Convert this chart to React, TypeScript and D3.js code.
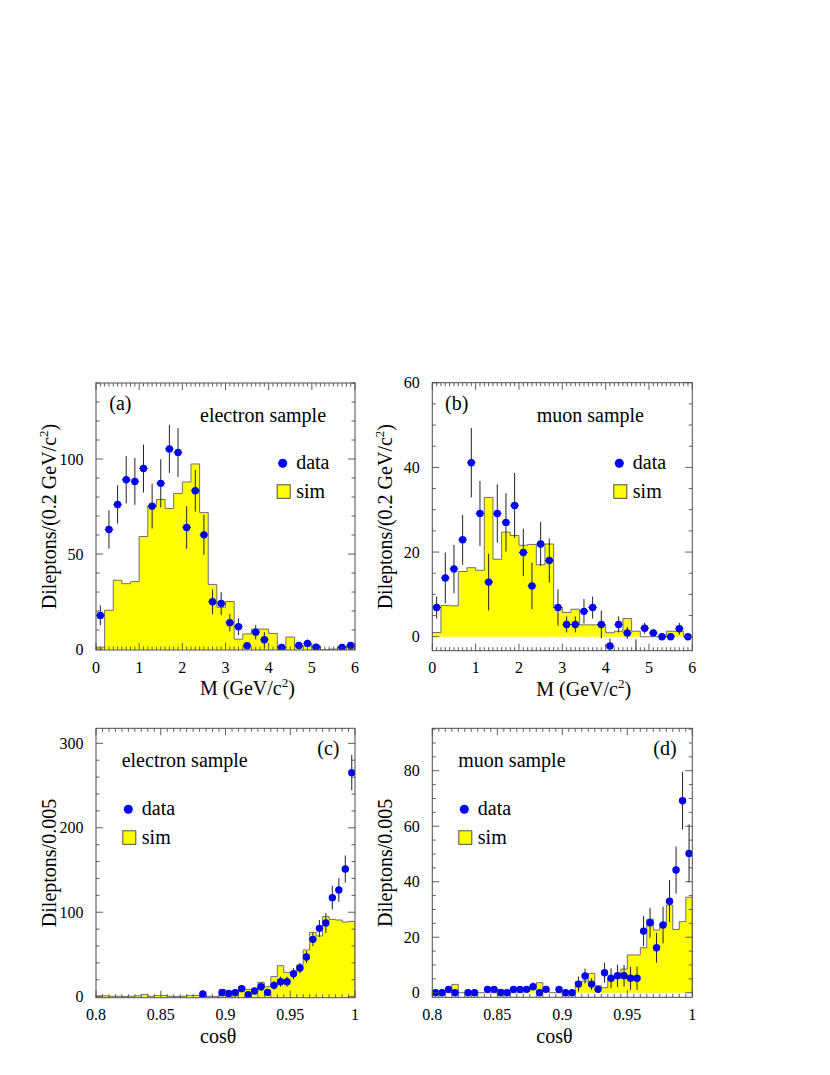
import React from "react";
import * as d3 from "d3";

// ---------------- Data ----------------
const massXTicks = [0, 1, 2, 3, 4, 5, 6];
const massXTickLabels = ["0", "1", "2", "3", "4", "5", "6"];
const cosXTicks = [0.8, 0.85, 0.9, 0.95, 1];
const cosXTickLabels = ["0.8", "0.85", "0.9", "0.95", "1"];
const electronMassYTicks = [0, 50, 100];
const muonMassYTicks = [0, 20, 40, 60];
const electronCosYTicks = [0, 100, 200, 300];
const muonCosYTicks = [0, 20, 40, 60, 80];

// (a) electron sample, M, 30 bins of 0.2 GeV/c^2
const simElectronMass = [1, 20.4, 36.2, 34.4, 35.5, 59.2, 75.2, 78.7, 74, 81.9, 87.9, 97.4, 71.8, 34, 22, 25, 5.2, 8, 10.5, 10.5, 8.2, 0.4, 6.3, 1.6, 1.6, 1.6, -0.5, 0, 1.2, 1.6];
const dataElectronMass = [17.7, 62.9, 76.1, 89.1, 88.2, 95, 75.2, 87.2, 105.3, 103.4, 64, 83.3, 60.1, 24.9, 24, 13.9, 11.8, 1.8, 8.9, 4.9, null, 0.9, null, 1.9, 3, 1, null, null, 0.9, 1.9];
const errElectronMass = [5.3, 10.1, 10.1, 12.5, 12.3, 12.6, 11.8, 12.7, 12.7, 12.9, 11.2, 11, 10.5, 6.5, 6, 4.6, 4.4, 1.9, 3.8, 4.1, 0, 1.5, 0, 1.5, 2, 1.2, 0, 0, 1, 1.5];

// (b) muon sample, M
const simMuonMass = [1, 7.4, 7.3, 15.4, 16.3, 15.7, 32.9, 18.3, 24.7, 23.9, 21.6, 21.8, 17.0, 21.9, 6.9, 5.75, 6.5, 2.8, 2.8, 2.8, 0.95, 1.3, 4.3, 1.3, 0, 0, 0, 1.3, 1.3, 0];
const dataMuonMass = [6.9, 13.9, 16, 22.9, 41.1, 29.1, 12.9, 29.1, 27, 31, 19.9, 12, 21.9, 18, 6.9, 2.9, 2.9, 6, 6.9, 2.9, -2.2, 2.9, 0.9, -4.5, 2, 0.9, 0, 0, 1.9, 0];
const errMuonMass = [2.6, 6, 5.7, 5.9, 8.2, 7.7, 6.7, 6.9, 6.9, 7.7, 5.6, 5.5, 5.2, 5.2, 4.3, 1.9, 1.9, 2.9, 2.6, 3.3, 1.8, 1.9, 1.4, 3.9, 1.3, 0.8, 0, 0, 1.4, 0];

// (c) electron sample, cos theta, 40 bins of 0.005
const simElectronCos = [1, 1, 0.5, 0.5, 0.3, 0.5, 1, 2.5, 0.5, 1.5, 1.5, 0.5, 0.3, 0.5, 1.5, 1.5, 2.5, 0.5, 0, 8.7, 5.9, 6.7, 11.8, 8.7, 8.7, 17, 11.8, 23.7, 36.7, 28.8, 28.8, 37.5, 55.3, 76.2, 71.9, 94.8, 91.6, 90.8, 88.4, 89.2];
const dataElectronCos = [null, null, null, null, null, null, null, null, null, null, null, null, null, null, null, null, 3.2, null, null, 4.7, 3.9, 4.7, 9.5, 2.4, 6.7, 11.8, 5.1, 13.4, 17.8, 17.8, 27.2, 34, 47, 67.9, 80.9, 87.2, 117.3, 126.3, 151.2, 265.3];
const errElectronCos = [0, 0, 0, 0, 0, 0, 0, 0, 0, 0, 0, 0, 0, 0, 0, 0, 2, 0, 0, 3, 3, 3, 4, 2.5, 3.5, 5, 3.5, 5, 6, 6, 6.5, 6.3, 7, 8, 10, 12, 14, 14, 16, 21];

// (d) muon sample, cos theta
const simMuonCos = [0, 0, 0, 3, 0, 0, 0, 0, 0, 0, 1.2, 0, 0, 0, 0.5, 1.2, 3.6, 0.5, 0, 0, 0, 0, 4, 4.2, 7, 2.5, 1.8, 5.4, 5.4, 8.5, 13.6, 13.6, 16.2, 26.5, 22.6, 24.7, 31.6, 22.8, 25.6, 34.4];
const dataMuonCos = [0, 0, 1.2, 0, null, 0, 0, null, 1.2, 1.2, 0, 0, 1.2, 1.2, 1.2, 2.2, 0, 1.2, null, 1.2, 0, 0, 3.1, 6, 3.1, 1.2, 7.2, 5.2, 6.1, 6.1, 5.2, 5.2, 22.2, 25.2, 16.2, 24.4, 33, 44.2, 69.2, 50.2];
const errMuonCos = [0, 0, 1, 0, 0, 0, 0, 0, 1, 1, 0, 0, 1, 1, 1, 1.5, 0, 1, 0, 1, 0, 0, 2.7, 2.7, 2.1, 1, 3.6, 3.6, 4, 3.9, 4.2, 4.2, 5.4, 5.4, 5.4, 6.6, 7.6, 8.5, 10.4, 10.5];

// ---------------- Styles ----------------
const FONT = "'Liberation Serif', 'Times New Roman', serif";
const FRAME = "#4d4d4d";
const HIST_LINE = "#6e6e6e";
const YELLOW = "#ffff00";
const BLUE = "#0000ff";
const ERR = "#222222";

type PanelProps = {
  id: string;
  left: number; right: number; top: number; bottom: number;
  xDomain: [number, number]; yDomain: [number, number];
  binWidth: number;
  sim: number[]; data: (number | null)[]; err: number[];
  xTicks: number[]; xTickLabels: string[]; xMinor: number;
  yTicks: number[]; yMinor: number;
  tag: string; sample: string;
  tagPos: [number, number]; samplePos: [number, number];
  legend: [number, number];
  kind: "mass" | "cos";
};

function minorRange(lo: number, hi: number, step: number): number[] {
  const out: number[] = [];
  const k0 = Math.ceil(lo / step - 1e-9);
  const k1 = Math.floor(hi / step + 1e-9);
  for (let k = k0; k <= k1; k++) out.push(+(k * step).toFixed(6));
  return out;
}

function Panel(p: PanelProps) {
  const x = d3.scaleLinear().domain(p.xDomain).range([p.left, p.right]);
  const y = d3.scaleLinear().domain(p.yDomain).range([p.bottom, p.top]);
  const x0 = p.xDomain[0];
  const lo = (i: number) => x0 + i * p.binWidth;
  const hi = (i: number) => x0 + (i + 1) * p.binWidth;

  // histogram paths
  let fillD = `M${x(lo(0))},${y(0)}`;
  let lineD = "";
  p.sim.forEach((v, i) => {
    fillD += `L${x(lo(i))},${y(v)}L${x(hi(i))},${y(v)}`;
    lineD += (i === 0 ? `M${x(lo(i))},${y(0)}L` : "L") + `${x(lo(i))},${y(v)}L${x(hi(i))},${y(v)}`;
  });
  fillD += `L${x(hi(p.sim.length - 1))},${y(0)}Z`;
  lineD += `L${x(hi(p.sim.length - 1))},${y(0)}`;

  const majorLen = 7, minorLen = 3.5;
  const xMinors = minorRange(p.xDomain[0], p.xDomain[1], p.xMinor);
  const yMinors = minorRange(p.yDomain[0], p.yDomain[1], p.yMinor);
  const isMajorX = (v: number) => p.xTicks.some((t) => Math.abs(t - v) < 1e-6);
  const isMajorY = (v: number) => p.yTicks.some((t) => Math.abs(t - v) < 1e-6);

  const ticks: JSX.Element[] = [];
  xMinors.forEach((v, k) => {
    const L = isMajorX(v) ? majorLen : minorLen;
    const xx = x(v);
    ticks.push(<line key={`xb${k}`} x1={xx} x2={xx} y1={p.bottom} y2={p.bottom - L} />);
    ticks.push(<line key={`xt${k}`} x1={xx} x2={xx} y1={p.top} y2={p.top + L} />);
  });
  yMinors.forEach((v, k) => {
    const L = isMajorY(v) ? majorLen : minorLen;
    const yy = y(v);
    ticks.push(<line key={`yl${k}`} x1={p.left} x2={p.left + L} y1={yy} y2={yy} />);
    ticks.push(<line key={`yr${k}`} x1={p.right} x2={p.right - L} y1={yy} y2={yy} />);
  });

  const [lx, ly] = p.legend;
  const cx = (p.left + p.right) / 2;
  const cy = (p.top + p.bottom) / 2;

  return (
    <g fontFamily={FONT} fill="#000">
      <defs>
        <clipPath id={p.id}>
          <rect x={p.left} y={p.top} width={p.right - p.left} height={p.bottom - p.top} />
        </clipPath>
      </defs>
      <g clipPath={`url(#${p.id})`}>
        <path d={fillD} fill={YELLOW} stroke="none" />
        <path d={lineD} fill="none" stroke={HIST_LINE} strokeWidth={1} />
        {p.data.map((v, i) => {
          if (v === null) return null;
          const e = p.err[i];
          const xc = x((lo(i) + hi(i)) / 2);
          const inside = v >= p.yDomain[0] && v <= p.yDomain[1];
          return (
            <g key={`d${i}`}>
              {e > 0 && (
                <line x1={xc} x2={xc} y1={y(v - e)} y2={y(v + e)} stroke={ERR} strokeWidth={1} />
              )}
              <line x1={x(lo(i))} x2={x(hi(i))} y1={y(v)} y2={y(v)} stroke={ERR} strokeWidth={1} />
              {inside && <circle cx={xc} cy={y(v)} r={3.7} fill={BLUE} />}
            </g>
          );
        })}
      </g>
      <rect x={p.left} y={p.top} width={p.right - p.left} height={p.bottom - p.top} fill="none" stroke={FRAME} strokeWidth={1} />
      <g stroke={FRAME} strokeWidth={0.9}>{ticks}</g>

      {/* tick labels */}
      {p.xTicks.map((t, k) => (
        <text key={`xl${k}`} x={x(t)} y={p.bottom + 22.5} fontSize={16} textAnchor="middle">
          {p.xTickLabels[k]}
        </text>
      ))}
      {p.yTicks.map((t, k) => (
        <text key={`yl${k}`} x={p.left - 12.5} y={y(t) + 5.5} fontSize={16} textAnchor="end">
          {String(t)}
        </text>
      ))}

      {/* axis titles */}
      {p.kind === "mass" ? (
        <text x={p.left + 104} y={p.bottom + 45} fontSize={20}>
          <tspan>M (GeV/c</tspan>
          <tspan dy={-8} fontSize={13}>2</tspan>
          <tspan dy={8}>)</tspan>
        </text>
      ) : (
        <text x={p.left + 104} y={p.bottom + 45.5} fontSize={20}>
          cosθ
        </text>
      )}
      {p.kind === "mass" ? (
        <text transform={`translate(${p.left - 40},${cy}) rotate(-90)`} fontSize={20} textAnchor="middle">
          <tspan>Dileptons/(0.2 GeV/c</tspan>
          <tspan dy={-8} fontSize={13}>2</tspan>
          <tspan dy={8}>)</tspan>
        </text>
      ) : (
        <text transform={`translate(${p.left - 40},${cy}) rotate(-90)`} fontSize={20} textAnchor="middle">
          Dileptons/0.005
        </text>
      )}

      {/* labels */}
      <text x={p.tagPos[0]} y={p.tagPos[1]} fontSize={20}>{p.tag}</text>
      <text x={p.samplePos[0]} y={p.samplePos[1]} fontSize={20}>{p.sample}</text>

      {/* legend */}
      <circle cx={lx} cy={ly} r={4.5} fill={BLUE} />
      <text x={lx + 13.5} y={ly + 5.7} fontSize={20}>data</text>
      <rect x={lx - 5.5} y={ly + 21.5} width={13} height={13.5} fill={YELLOW} stroke={FRAME} strokeWidth={1} />
      <text x={lx + 13.5} y={ly + 35} fontSize={20}>sim</text>
      <g style={{ display: "none" }}>{cx}</g>
    </g>
  );
}

export default function App() {
  return (
    <svg
      width={830}
      height={1075}
      viewBox="0 0 830 1075"
      style={{ position: "absolute", left: 0, top: 0, background: "#fff" }}
    >
      <rect x={0} y={0} width={830} height={1075} fill="#fff" />
      <Panel
        id="clipA" left={96} right={355} top={383} bottom={650}
        xDomain={[0, 6]} yDomain={[-0.5, 140]} binWidth={0.2}
        sim={simElectronMass} data={dataElectronMass} err={errElectronMass}
        xTicks={massXTicks} xTickLabels={massXTickLabels} xMinor={0.1}
        yTicks={electronMassYTicks} yMinor={10}
        tag="(a)" tagPos={[109.3, 409.5]} sample="electron sample" samplePos={[200, 422]}
        legend={[282.7, 463.3]} kind="mass"
      />
      <Panel
        id="clipB" left={432.3} right={692.3} top={382.7} bottom={650.7}
        xDomain={[0, 6]} yDomain={[-3.3, 60]} binWidth={0.2}
        sim={simMuonMass} data={dataMuonMass} err={errMuonMass}
        xTicks={massXTicks} xTickLabels={massXTickLabels} xMinor={0.1}
        yTicks={muonMassYTicks} yMinor={5}
        tag="(b)" tagPos={[445, 409.5]} sample="muon sample" samplePos={[536.7, 422]}
        legend={[619.3, 463.3]} kind="mass"
      />
      <Panel
        id="clipC" left={96} right={355} top={728.3} bottom={997.7}
        xDomain={[0.8, 1]} yDomain={[-1.2, 317.8]} binWidth={0.005}
        sim={simElectronCos} data={dataElectronCos} err={errElectronCos}
        xTicks={cosXTicks} xTickLabels={cosXTickLabels} xMinor={0.005}
        yTicks={electronCosYTicks} yMinor={20}
        tag="(c)" tagPos={[317.3, 755]} sample="electron sample" samplePos={[121.7, 767]}
        legend={[128.3, 809.3]} kind="cos"
      />
      <Panel
        id="clipD" left={432.3} right={692.3} top={728.3} bottom={997.3}
        xDomain={[0.8, 1]} yDomain={[-1.66, 95.3]} binWidth={0.005}
        sim={simMuonCos} data={dataMuonCos} err={errMuonCos}
        xTicks={cosXTicks} xTickLabels={cosXTickLabels} xMinor={0.005}
        yTicks={muonCosYTicks} yMinor={5}
        tag="(d)" tagPos={[653.3, 755]} sample="muon sample" samplePos={[458.3, 767]}
        legend={[464.3, 809.3]} kind="cos"
      />
    </svg>
  );
}
